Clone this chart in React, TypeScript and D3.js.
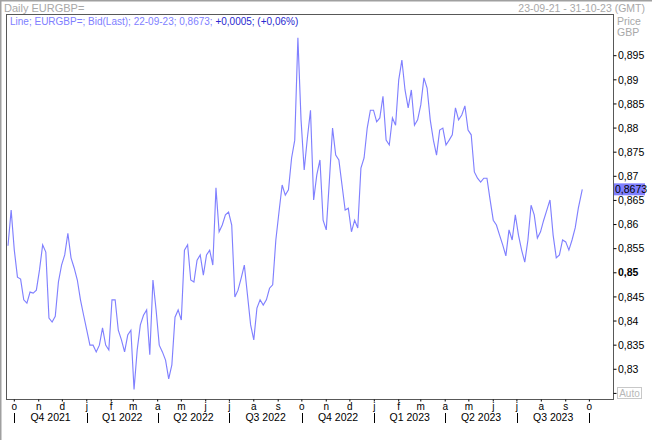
import * as d3 from 'd3'

// daily EUR/GBP bid, sampled every 4 calendar days from START
const START = new Date(2021, 8, 23)
const DOMAIN_END = new Date(2023, 9, 31)
const LAST_DATE = new Date(2023, 8, 22)
const STEP_DAYS = 4

const close2021 = [
  0.8556, 0.863, 0.8547, 0.8491, 0.8487, 0.8444, 0.8437, 0.846, 0.8458, 0.8464,
  0.8506, 0.8558, 0.8543, 0.8406, 0.8398, 0.841, 0.8481, 0.8516, 0.8537, 0.8582,
  0.8531, 0.851, 0.8485, 0.8444, 0.8412,
]
const close2022 = [
  0.8381, 0.835, 0.835, 0.8336, 0.835, 0.8386, 0.835, 0.834, 0.8444, 0.8444,
  0.8381, 0.8361, 0.8336, 0.8371, 0.8381, 0.8258, 0.834, 0.8392, 0.8412, 0.8423,
  0.833, 0.8485, 0.8423, 0.835, 0.8336, 0.8319, 0.828, 0.8309, 0.8408, 0.8423,
  0.8402, 0.8547, 0.8558, 0.8485, 0.8481, 0.8526, 0.8537, 0.8495, 0.8537, 0.8547,
  0.8516, 0.8676, 0.8585, 0.8599, 0.862, 0.8626, 0.8599, 0.845, 0.8464, 0.8489,
  0.8516, 0.8454, 0.8392, 0.8361, 0.8427, 0.8444, 0.8433, 0.8444, 0.8468, 0.8475,
  0.8568, 0.8626, 0.8682, 0.8661, 0.8672, 0.8738, 0.8775, 0.8987, 0.8817, 0.8713,
  0.8779, 0.8837, 0.8651, 0.8703, 0.8734, 0.8609, 0.8589, 0.8692, 0.88, 0.8744,
  0.8734, 0.8682, 0.863, 0.8634, 0.8585, 0.8609, 0.8593, 0.8717, 0.8738, 0.88,
  0.8837, 0.8837,
]
const close2023 = [
  0.8813, 0.8821, 0.8866, 0.8775, 0.8765, 0.8821, 0.8806, 0.89, 0.8941, 0.8879,
  0.8842, 0.8879, 0.8806, 0.8817, 0.8848, 0.8904, 0.8883, 0.8817, 0.8775, 0.8744,
  0.8796, 0.88, 0.8765, 0.8775, 0.8786, 0.8842, 0.8817, 0.8827, 0.8846, 0.8796,
  0.8786, 0.8709, 0.8696, 0.8688, 0.8696, 0.8696, 0.8651, 0.8609, 0.8599, 0.8578,
  0.8558, 0.8535, 0.8589, 0.8568, 0.862, 0.8578, 0.8547, 0.8522, 0.8568, 0.864,
  0.862, 0.8572, 0.8585, 0.8609, 0.863, 0.8651, 0.8578, 0.8531, 0.8537, 0.8568,
  0.8564, 0.8547, 0.8568, 0.8593, 0.8634, 0.8673,
]

const yTickValues = [
  0.825, 0.83, 0.835, 0.84, 0.845, 0.85, 0.855, 0.86, 0.865, 0.87, 0.875, 0.88, 0.885, 0.89,
  0.895,
]
const monthLetters = ['j', 'f', 'm', 'a', 'm', 'j', 'j', 'a', 's', 'o', 'n', 'd']
const quarterStarts = [
  '2021-10-01', '2022-01-01', '2022-04-01', '2022-07-01', '2022-10-01',
  '2023-01-01', '2023-04-01', '2023-07-01', '2023-10-01',
]
const quarterLabels = [
  'Q4 2021', 'Q1 2022', 'Q2 2022', 'Q3 2022', 'Q4 2022', 'Q1 2023', 'Q2 2023', 'Q3 2023',
]

const W = 652
const H = 440
const LEFT = 6.5
const RIGHT = 613.5
const TOP = 14.5
const BOTTOM = 399.5
const LINE_COLOR = '#8080ff'
const FONT = "Tahoma, 'Liberation Sans', Arial, sans-serif"

const fmt = (v: number) => String(+v.toFixed(4)).replace('.', ',')

export default function App() {
  const closes = [...close2021, ...close2022, ...close2023]
  const data = closes.map((v, i) => ({
    date: i === closes.length - 1 ? LAST_DATE : d3.timeDay.offset(START, i * STEP_DAYS),
    value: v,
  }))
  const last = data[data.length - 1]
  const prev = closes[closes.length - 1] - 0.0005

  const x = d3.scaleTime().domain([START, DOMAIN_END]).range([8, 613])
  const y = d3.scaleLinear().domain([0.825, 0.895]).range([393.4, 55.7])

  const line = d3
    .line<{ date: Date; value: number }>()
    .x((d) => x(d.date))
    .y((d) => y(d.value))

  const parse = d3.timeParse('%Y-%m-%d')
  const qDates = quarterStarts.map((s) => parse(s)!)
  const months = d3.timeMonth.range(new Date(2021, 9, 1), new Date(2023, 10, 1))

  const chg = last.value - prev
  const pct = (chg / prev) * 100

  return (
    <svg
      width={W}
      height={H}
      style={{ position: 'absolute', left: 0, top: 0, background: '#fff' }}
      fontFamily={FONT}
    >
      <rect x={0} y={0} width={W} height={H} fill="#fff" />
      <line x1={0} x2={W} y1={0.75} y2={0.75} stroke="#a0a0a0" strokeWidth={1.5} />
      <line x1={0.75} x2={0.75} y1={0} y2={H} stroke="#a0a0a0" strokeWidth={1.5} />

      <text x={4} y={12} fontSize={11} fill="#a8a8a8">
        Daily EURGBP=
      </text>
      <text x={645} y={12} fontSize={10.5} fill="#a8a8a8" textAnchor="end">
        23-09-21 - 31-10-23 (GMT)
      </text>
      <text x={617} y={25} fontSize={10.5} fill="#a8a8a8">
        Price
      </text>
      <text x={617} y={36} fontSize={10.5} fill="#a8a8a8">
        GBP
      </text>

      <defs>
        <clipPath id="plot-clip">
          <rect x={LEFT} y={TOP} width={RIGHT - LEFT} height={BOTTOM - TOP} />
        </clipPath>
      </defs>

      <path
        d={line(data) ?? ''}
        fill="none"
        stroke={LINE_COLOR}
        strokeWidth={1.15}
        clipPath="url(#plot-clip)"
      />

      <rect
        x={LEFT}
        y={TOP}
        width={RIGHT - LEFT}
        height={BOTTOM - TOP}
        fill="none"
        stroke="#585858"
        strokeWidth={1}
      />

      <text x={10} y={25} fontSize={10}>
        <tspan fill={LINE_COLOR}>
          {`Line; EURGBP=; Bid(Last); ${d3.timeFormat('%d-%m-%y')(last.date)}; ${fmt(last.value)}; `}
        </tspan>
        <tspan fill="#2828d0">{`+${fmt(chg)}; (+${pct.toFixed(2).replace('.', ',')}%)`}</tspan>
      </text>

      {/* price axis */}
      {yTickValues.map((v) => (
        <g key={v} transform={`translate(0,${y(v)})`}>
          <line x1={RIGHT} x2={RIGHT + 3} stroke="#000" />
          {v !== 0.825 && (
            <text
              x={618}
              dy="0.35em"
              fontSize={10.5}
              fill="#000"
              fontWeight={v === 0.85 ? 'bold' : 'normal'}
            >
              {fmt(v)}
            </text>
          )}
        </g>
      ))}
      <rect x={617.5} y={387.5} width={24} height={11} fill="#fff" stroke="#c8c8c8" />
      <text x={629.5} y={396.5} fontSize={10} fill="#b8b8b8" textAnchor="middle">
        Auto
      </text>
      <g transform={`translate(0,${y(last.value)})`}>
        <rect x={614} y={-6} width={31} height={12} fill={LINE_COLOR} />
        <text x={615} dy="0.35em" fontSize={10.5} fill="#000">
          {fmt(last.value)}
        </text>
      </g>

      {/* time axis */}
      {months.map((m) => (
        <g key={+m} transform={`translate(${x(m)},0)`}>
          <line y1={BOTTOM} y2={BOTTOM + 2} stroke="#000" />
          <text y={410} fontSize={10} textAnchor="middle" fill="#000">
            {monthLetters[m.getMonth()]}
          </text>
        </g>
      ))}
      {qDates.map((d) => (
        <line
          key={+d}
          x1={Math.round(x(d)) + 0.5}
          x2={Math.round(x(d)) + 0.5}
          y1={413}
          y2={423}
          stroke="#000"
        />
      ))}
      {quarterLabels.map((q, i) => (
        <text
          key={q}
          x={(x(qDates[i]) + x(qDates[i + 1])) / 2}
          y={421}
          fontSize={10.5}
          textAnchor="middle"
          fill="#000"
        >
          {q}
        </text>
      ))}
    </svg>
  )
}
